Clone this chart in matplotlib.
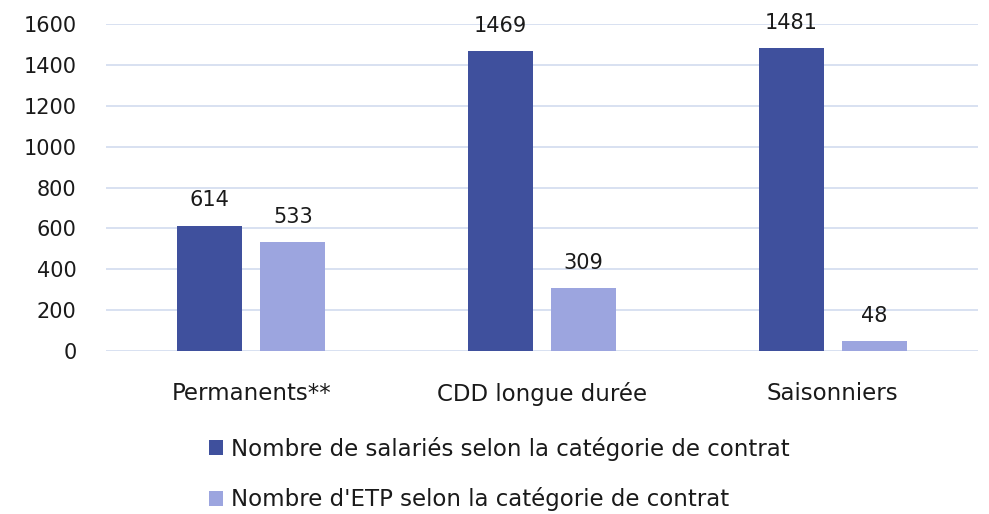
import numpy as np
import matplotlib
matplotlib.use("Agg")
import matplotlib.pyplot as plt
from matplotlib.patches import Patch

# Données
categories = ["Permanents**", "CDD longue durée", "Saisonniers"]
salaries = [614, 1469, 1481]
etp = [533, 309, 48]
serie_labels = ["Nombre de salariés selon la catégorie de contrat",
                "Nombre d'ETP selon la catégorie de contrat"]
yticks = [0, 200, 400, 600, 800, 1000, 1200, 1400, 1600]

couleur_fonce = "#3F509D"
couleur_clair = "#9CA5DF"
couleur_grille = "#D6DEF0"

plt.rcParams["font.family"] = ["DejaVu Sans"]
taille_nb = 15
taille_txt = 16.5

fig = plt.figure(figsize=(9.89, 5.14), dpi=100)
ax = fig.add_axes([0.107, 0.317, 0.882, 0.636])

x = np.arange(len(categories))
largeur = 0.224
decalage = 0.143

b1 = ax.bar(x - decalage, salaries, largeur, color=couleur_fonce, zorder=3)
b2 = ax.bar(x + decalage, etp, largeur, color=couleur_clair, zorder=3)

for barres in (b1, b2):
    for b in barres:
        ax.annotate(str(int(b.get_height())),
                    (b.get_x() + b.get_width() / 2, b.get_height()),
                    xytext=(0, 11), textcoords="offset points",
                    ha="center", va="bottom", fontsize=taille_nb, color="#1a1a1a",
                    annotation_clip=False)

ax.set_xlim(-0.5, 2.5)
ax.set_ylim(0, 1600)
ax.set_yticks(yticks)
ax.set_xticks(x)
ax.set_xticklabels(categories, fontsize=taille_txt, color="#1a1a1a")
ax.tick_params(axis="y", labelsize=taille_nb, colors="#1a1a1a", length=0, pad=21)
ax.tick_params(axis="x", length=0, pad=22)
ax.grid(axis="y", color=couleur_grille, linewidth=1.3, zorder=0)
for s in ax.spines.values():
    s.set_visible(False)

poignees = [Patch(facecolor=couleur_fonce), Patch(facecolor=couleur_clair)]
fig.legend(poignees, serie_labels, loc="upper left",
           bbox_to_anchor=(0.19, 0.19), frameon=False, fontsize=taille_txt,
           handlelength=0.62, handleheight=0.62, handletextpad=0.35,
           labelspacing=1.15, labelcolor="#1a1a1a")

fig.savefig("out.png", dpi=100)
